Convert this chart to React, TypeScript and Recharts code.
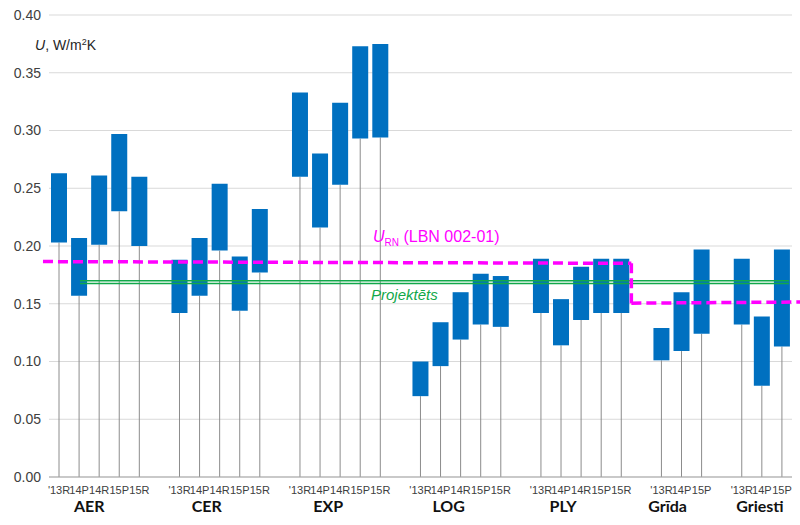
import React from 'react'
import { ComposedChart, Bar, XAxis, YAxis, CartesianGrid, ReferenceLine } from 'recharts'

const groups = ['AER', 'CER', 'EXP', 'LOG', 'PLY', 'Grīda', 'Griesti']
const periods5 = ["'13R", '14P', '14R', '15P', '15R']
const periods3 = ["'13R", '14P', '15P']

// min / max U values per group
const lowAER = [0.203, 0.157, 0.201, 0.230, 0.200]
const highAER = [0.263, 0.207, 0.261, 0.297, 0.260]
const lowCER = [0.142, 0.157, 0.196, 0.144, 0.177]
const highCER = [0.188, 0.207, 0.254, 0.191, 0.232]
const lowEXP = [0.260, 0.216, 0.253, 0.293, 0.294]
const highEXP = [0.333, 0.280, 0.324, 0.373, 0.375]
const lowLOG = [0.070, 0.096, 0.119, 0.132, 0.130]
const highLOG = [0.100, 0.134, 0.160, 0.176, 0.174]
const lowPLY = [0.142, 0.114, 0.136, 0.142, 0.142]
const highPLY = [0.189, 0.154, 0.182, 0.189, 0.189]
const lowGrida = [0.101, 0.109, 0.124]
const highGrida = [0.129, 0.160, 0.197]
const lowGriesti = [0.132, 0.079, 0.113]
const highGriesti = [0.189, 0.139, 0.197]

const yTicks = [0, 0.05, 0.1, 0.15, 0.2, 0.25, 0.3, 0.35, 0.4]

// U_RN norm (walls/others vs floor+ceiling) and design value, on slot scale
const urnX = [-0.3, 29, 37.4]
const urnWalls = [0.1865, 0.185]
const urnFloor = [0.1505, 0.1515]
const projX = [1.54, 36.85]
const projY = [0.1675, 0.170]

const series = [
  { group: groups[0], periods: periods5, low: lowAER, high: highAER },
  { group: groups[1], periods: periods5, low: lowCER, high: highCER },
  { group: groups[2], periods: periods5, low: lowEXP, high: highEXP },
  { group: groups[3], periods: periods5, low: lowLOG, high: highLOG },
  { group: groups[4], periods: periods5, low: lowPLY, high: highPLY },
  { group: groups[5], periods: periods3, low: lowGrida, high: highGrida },
  { group: groups[6], periods: periods3, low: lowGriesti, high: highGriesti },
]

type Row = { id: string; label: string; group: string; mid: boolean; x: number; low?: number; span?: number }

const rows: Row[] = []
series.forEach((s, gi) => {
  if (gi > 0) rows.push({ id: 'gap' + gi, label: '', group: '', mid: false, x: rows.length + 0.5 })
  s.periods.forEach((p, i) => {
    rows.push({
      id: s.group + p,
      label: p,
      group: s.group,
      mid: i === Math.floor(s.periods.length / 2),
      x: rows.length + 0.5,
      low: s.low[i],
      span: +(s.high[i] - s.low[i]).toFixed(4),
    })
  })
})
const rowById: Record<string, Row> = Object.fromEntries(rows.map(r => [r.id, r]))

const groupDx: Record<string, number> = {
  AER: -10, CER: -13, EXP: -12, LOG: -12, PLY: -18, 'Grīda': -14, Griesti: -2,
}

const FONT = "'Liberation Sans', Arial, sans-serif"

function CatTick(props: any) {
  const { x, y, payload } = props
  const r = rowById[payload.value]
  if (!r) return null
  return (
    <g>
      <text x={x} y={y + 17} textAnchor="middle" fontSize={11} fill="#404040" style={{ fontFamily: FONT }}>
        {r.label}
      </text>
      {r.mid && (
        <text x={x + groupDx[r.group]} y={y + 35} textAnchor="middle" fontSize={16} fontWeight="bold" fill="#111" style={{ fontFamily: 'Lato, sans-serif' }}>
          {r.group}
        </text>
      )}
    </g>
  )
}

function Stem(props: any) {
  const { x, y, width, height } = props
  if (!height || height <= 0) return null
  const cx = x + width / 2
  return <line x1={cx} x2={cx} y1={y} y2={y + height} stroke="#8c8c8c" strokeWidth={1} />
}

export default function App() {
  const magenta = '#ff00ff'
  const green = '#11a84a'
  return (
    <div style={{ position: 'absolute', left: 0, top: 0, width: 800, height: 525, background: '#fff', fontFamily: FONT }}>
      <ComposedChart width={800} height={525} data={rows} margin={{ top: 15, right: 8, bottom: 0, left: 8 }} style={{ fontFamily: FONT }}>
        <CartesianGrid vertical={false} stroke="#d9d9d9" />
        <XAxis
          dataKey="id"
          interval={0}
          tick={<CatTick />}
          tickLine={false}
          tickSize={0}
          tickMargin={0}
          height={48}
          axisLine={{ stroke: '#a6a6a6' }}
        />
        <XAxis xAxisId="num" type="number" dataKey="x" domain={[0, 37]} allowDataOverflow hide />
        <YAxis
          domain={[0, 0.4]}
          ticks={yTicks}
          width={41}
          axisLine={false}
          tickLine={false}
          tickFormatter={(v: number) => v.toFixed(2)}
          tick={{ fontSize: 14, fill: '#404040', style: { fontFamily: FONT } }}
        />
        <Bar dataKey="low" stackId="s" barSize={16} shape={<Stem />} isAnimationActive={false} />
        <Bar dataKey="span" stackId="s" barSize={16} fill="#0070c0" isAnimationActive={false} />
        <ReferenceLine
          xAxisId="num"
          ifOverflow="visible"
          segment={[{ x: projX[0], y: projY[0] }, { x: projX[1], y: projY[0] }]}
          stroke={green}
          strokeWidth={1.5}
        />
        <ReferenceLine
          xAxisId="num"
          ifOverflow="visible"
          segment={[{ x: projX[0], y: projY[1] }, { x: projX[1], y: projY[1] }]}
          stroke={green}
          strokeWidth={1.5}
        />
        <ReferenceLine
          xAxisId="num"
          ifOverflow="visible"
          segment={[{ x: urnX[0], y: urnWalls[0] }, { x: urnX[1], y: urnWalls[1] }]}
          stroke={magenta}
          strokeWidth={3.5}
          strokeDasharray="10 5"
        />
        <ReferenceLine
          xAxisId="num"
          ifOverflow="visible"
          segment={[{ x: urnX[1], y: urnWalls[1] }, { x: urnX[1], y: urnFloor[0] }]}
          stroke={magenta}
          strokeWidth={3.5}
          strokeDasharray="10 5"
        />
        <ReferenceLine
          xAxisId="num"
          ifOverflow="visible"
          segment={[{ x: urnX[1], y: urnFloor[0] }, { x: urnX[2], y: urnFloor[1] }]}
          stroke={magenta}
          strokeWidth={3.5}
          strokeDasharray="10 5"
        />
      </ComposedChart>
      <div style={{ position: 'absolute', left: 35, top: 34, fontSize: 14, color: '#262626', lineHeight: '16px', whiteSpace: 'nowrap' }}>
        <i>U</i>, W/m<sup style={{ fontSize: 9, verticalAlign: 5 }}>2</sup>K
      </div>
      <div style={{ position: 'absolute', left: 373, top: 228, fontSize: 16, color: magenta, lineHeight: '18px', whiteSpace: 'nowrap' }}>
        <i>U</i><span style={{ fontSize: 10, position: 'relative', top: 4 }}>RN</span> (LBN 002-01)
      </div>
      <div style={{ position: 'absolute', left: 371, top: 286, fontSize: 15, color: green, fontStyle: 'italic', lineHeight: '18px', whiteSpace: 'nowrap' }}>
        Projektēts
      </div>
    </div>
  )
}
